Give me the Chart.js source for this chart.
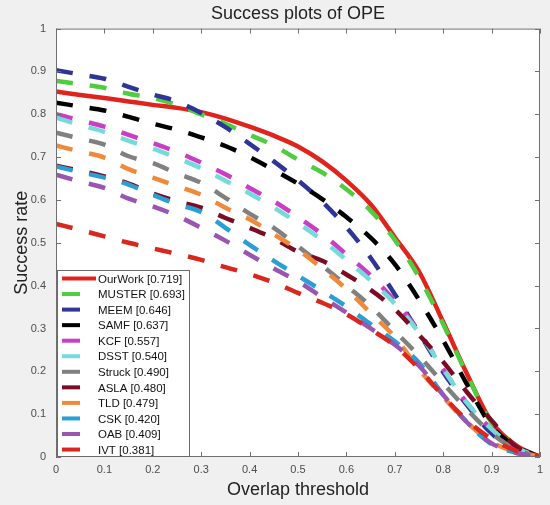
<!DOCTYPE html>
<html>
<head>
<meta charset="utf-8">
<script src="https://cdn.jsdelivr.net/npm/chart.js@4/dist/chart.umd.min.js"></script>
<style>
    body { margin: 0; background: #f0f0f0; }
    #chart { display: block; }
</style>
</head>
<body>
<canvas id="chart" width="550" height="505"></canvas>
<script>
// overlap thresholds (x) and success rates (y)
const thresholds = [0, 0.05, 0.1, 0.15, 0.2, 0.25, 0.3, 0.35, 0.4, 0.45, 0.5, 0.55, 0.6, 0.65, 0.7, 0.75, 0.8, 0.85, 0.9, 0.95, 1];

const ourWork = [0.853, 0.845, 0.838, 0.830, 0.822, 0.815, 0.805, 0.790, 0.771, 0.750, 0.725, 0.690, 0.645, 0.590, 0.513, 0.433, 0.315, 0.192, 0.082, 0.028, 0];
const muster  = [0.878, 0.870, 0.862, 0.848, 0.838, 0.822, 0.800, 0.778, 0.752, 0.727, 0.694, 0.664, 0.625, 0.575, 0.507, 0.420, 0.310, 0.190, 0.080, 0.025, 0];
const meem    = [0.903, 0.893, 0.883, 0.864, 0.846, 0.830, 0.803, 0.770, 0.731, 0.690, 0.646, 0.596, 0.536, 0.465, 0.380, 0.290, 0.198, 0.120, 0.055, 0.015, 0];
const samf    = [0.827, 0.818, 0.809, 0.794, 0.778, 0.764, 0.746, 0.726, 0.700, 0.670, 0.638, 0.602, 0.560, 0.512, 0.450, 0.367, 0.272, 0.168, 0.072, 0.025, 0];
const kcf     = [0.800, 0.786, 0.771, 0.752, 0.733, 0.712, 0.687, 0.660, 0.628, 0.597, 0.560, 0.520, 0.473, 0.424, 0.364, 0.293, 0.205, 0.125, 0.065, 0.020, 0];
const dsst    = [0.792, 0.775, 0.759, 0.738, 0.720, 0.698, 0.674, 0.645, 0.615, 0.582, 0.546, 0.506, 0.460, 0.412, 0.358, 0.290, 0.205, 0.125, 0.065, 0.022, 0];
const struck  = [0.757, 0.743, 0.729, 0.702, 0.686, 0.662, 0.640, 0.605, 0.568, 0.535, 0.492, 0.447, 0.400, 0.352, 0.294, 0.236, 0.172, 0.110, 0.055, 0.018, 0];
const asla    = [0.680, 0.668, 0.655, 0.638, 0.615, 0.597, 0.582, 0.558, 0.535, 0.510, 0.479, 0.458, 0.426, 0.390, 0.345, 0.285, 0.222, 0.150, 0.085, 0.025, 0];
const tld     = [0.727, 0.713, 0.699, 0.672, 0.652, 0.632, 0.612, 0.582, 0.555, 0.520, 0.484, 0.440, 0.392, 0.336, 0.280, 0.205, 0.140, 0.080, 0.035, 0.012, 0];
const csk     = [0.678, 0.665, 0.652, 0.636, 0.612, 0.590, 0.572, 0.535, 0.495, 0.458, 0.423, 0.388, 0.351, 0.310, 0.270, 0.220, 0.145, 0.080, 0.030, 0.010, 0];
const oab     = [0.659, 0.643, 0.628, 0.603, 0.585, 0.563, 0.535, 0.505, 0.472, 0.440, 0.410, 0.373, 0.337, 0.300, 0.262, 0.213, 0.145, 0.080, 0.032, 0.010, 0];
const ivt     = [0.544, 0.530, 0.515, 0.500, 0.487, 0.474, 0.460, 0.443, 0.427, 0.407, 0.383, 0.360, 0.333, 0.298, 0.260, 0.206, 0.142, 0.085, 0.042, 0.015, 0];

const trackers = ["OurWork", "MUSTER", "MEEM", "SAMF", "KCF", "DSST", "Struck", "ASLA", "TLD", "CSK", "OAB", "IVT"];
const scores = ["0.719", "0.693", "0.646", "0.637", "0.557", "0.540", "0.490", "0.480", "0.479", "0.420", "0.409", "0.381"];
const series = [ourWork, muster, meem, samf, kcf, dsst, struck, asla, tld, csk, oab, ivt];

const colors = ["#e0231c", "#4fcc3f", "#2f3596", "#000000", "#c93ec4", "#74dada", "#808080",
                "#7a0c24", "#ef8a3c", "#2a9fd6", "#9a55b0", "#d9261f"];

const ticks = [0, 0.1, 0.2, 0.3, 0.4, 0.5, 0.6, 0.7, 0.8, 0.9, 1];

Chart.defaults.font.family = "'Liberation Sans', Arial, sans-serif";

const datasets = series.map((values, i) => ({
    label: `${trackers[i]} [${scores[i]}]`,
    data: values.map((v, j) => ({ x: thresholds[j], y: v })),
    borderColor: colors[i],
    borderWidth: 4.5,
    borderDash: i === 0 ? [] : [17, 17],
    borderCapStyle: "butt",
    pointRadius: 0,
    cubicInterpolationMode: "monotone",
    order: series.length - i,
}));

const tickText = v => String(Math.round(v * 10) / 10);

// grey figure, white axes, box with inward ticks, legend in lower left
const matlabFrame = {
    id: "matlabFrame",
    beforeDraw(chart) {
        const { ctx, chartArea: a } = chart;
        ctx.save();
        ctx.fillStyle = "#f0f0f0";
        ctx.fillRect(0, 0, chart.width, chart.height);
        ctx.fillStyle = "#ffffff";
        ctx.fillRect(a.left, a.top, a.right - a.left, a.bottom - a.top);
        ctx.restore();
    },
    afterDraw(chart) {
        const { ctx, chartArea: a } = chart;
        const xs = chart.scales.x;
        const ys = chart.scales.y;
        ctx.save();
        ctx.strokeStyle = "#707070";
        ctx.lineWidth = 1;
        ctx.strokeRect(a.left + 0.5, a.top + 0.5, a.right - a.left - 1, a.bottom - a.top - 1);
        ctx.beginPath();
        ticks.forEach(t => {
            const px = Math.round(xs.getPixelForValue(t)) + 0.5;
            ctx.moveTo(px, a.bottom); ctx.lineTo(px, a.bottom - 5);
            ctx.moveTo(px, a.top); ctx.lineTo(px, a.top + 5);
            const py = Math.round(ys.getPixelForValue(t)) + 0.5;
            ctx.moveTo(a.left, py); ctx.lineTo(a.left + 5, py);
            ctx.moveTo(a.right, py); ctx.lineTo(a.right - 5, py);
        });
        ctx.stroke();

        // legend
        const left = a.left + 1, top = 270, right = 190, bottom = a.bottom;
        ctx.fillStyle = "#ffffff";
        ctx.fillRect(left, top, right - left, bottom - top);
        ctx.strokeStyle = "#6a6a6a";
        ctx.strokeRect(left + 0.5, top + 0.5, right - left - 1, bottom - top - 1);
        ctx.font = "11.5px 'Liberation Sans', Arial, sans-serif";
        ctx.textBaseline = "middle";
        ctx.textAlign = "left";
        chart.data.datasets.forEach((ds, i) => {
            const y = 278.5 + i * 15.55;
            ctx.strokeStyle = ds.borderColor;
            ctx.lineWidth = 4;
            ctx.beginPath();
            ctx.moveTo(62, y);
            ctx.lineTo(i === 0 ? 96 : 80, y);
            ctx.stroke();
            ctx.fillStyle = "#111111";
            ctx.fillText(ds.label, 98, y + 1);
        });
        ctx.restore();
    }
};

new Chart(document.getElementById("chart"), {
    type: "line",
    data: { datasets },
    options: {
        responsive: false,
        animation: false,
        layout: { padding: { left: 0, right: 10, top: 0, bottom: 0 } },
        scales: {
            x: {
                type: "linear",
                min: 0,
                max: 1,
                grid: { display: false, drawTicks: false },
                border: { display: false },
                ticks: { stepSize: 0.1, padding: 6, color: "#4d4d4d", font: { size: 11 }, maxRotation: 0, callback: tickText },
                title: { display: true, text: "Overlap threshold", color: "#222222", font: { size: 18 }, padding: { top: 0, bottom: 4 } },
                afterFit(scale) { scale.height = 48; },
            },
            y: {
                min: 0,
                max: 1,
                grid: { display: false, drawTicks: false },
                border: { display: false },
                ticks: { stepSize: 0.1, padding: 10, color: "#4d4d4d", font: { size: 11 }, callback: tickText },
                title: { display: true, text: "Success rate", color: "#222222", font: { size: 18 }, padding: { top: 11, bottom: 0 } },
                afterFit(scale) { scale.width = 56; },
            },
        },
        plugins: {
            legend: { display: false },
            tooltip: { enabled: false },
            title: {
                display: true,
                text: "Success plots of OPE",
                color: "#222222",
                fullSize: false,
                font: { size: 18, weight: "normal" },
                padding: { top: 3, bottom: 4 },
            },
        },
    },
    plugins: [matlabFrame],
});
</script>
</body>
</html>
